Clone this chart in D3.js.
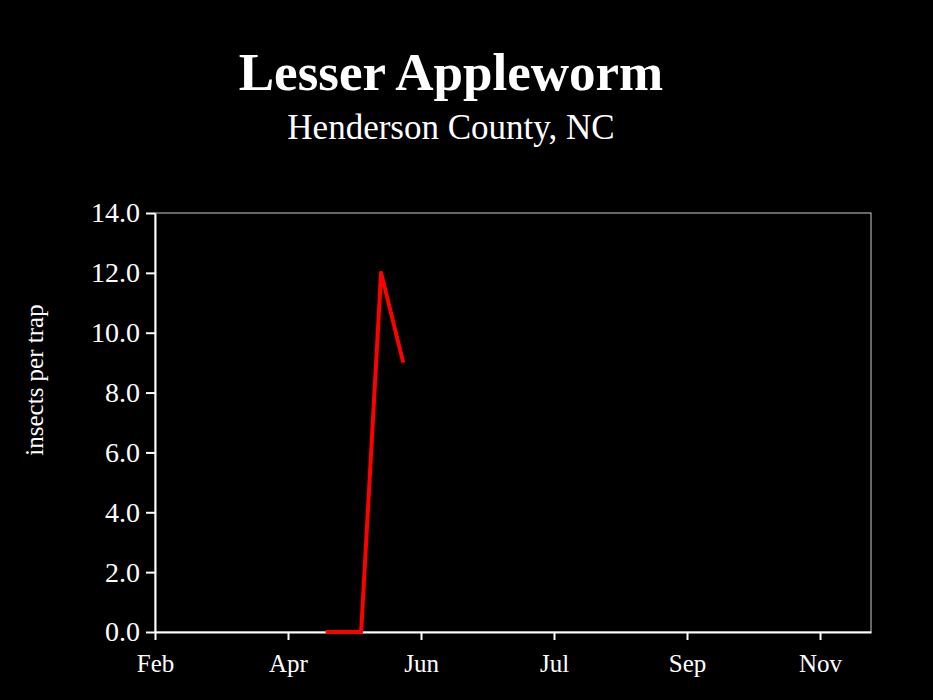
<!DOCTYPE html>
<html><head><meta charset="utf-8">
<script src="https://cdn.jsdelivr.net/npm/d3@7"></script>
<style>body{margin:0;background:#000}</style>
</head><body><div id="d1"></div>
<script>
const dates = ["2009-04-19", "2009-05-05", "2009-05-14", "2009-05-24"];
const counts = [0, 0, 12, 9];
const yTicks = [0, 2, 4, 6, 8, 10, 12, 14];
const xTickDates = ["2009-02-01", "2009-04-02", "2009-06-01", "2009-07-31", "2009-09-29", "2009-11-28"];
const xTickLabels = ["Feb", "Apr", "Jun", "Jul", "Sep", "Nov"];

const width = 933, height = 700;
const margin = { top: 213, right: 62, bottom: 68, left: 155 };
const parse = d3.utcParse("%Y-%m-%d");
const data = dates.map((d, i) => ({ x: parse(d), y: counts[i] }));
const font = "Liberation Serif, serif";

const x = d3.scaleUtc()
    .domain([parse("2009-02-01"), d3.utcDay.offset(parse("2009-02-01"), 323)])
    .range([margin.left, width - margin.right]);
const y = d3.scaleLinear().domain([0, 14]).range([height - margin.bottom, margin.top]);

const svg = d3.select("#d1").append("svg")
    .attr("width", width).attr("height", height)
    .attr("font-family", font);

svg.append("rect").attr("width", width).attr("height", height).attr("fill", "#000");

// frame
svg.append("rect")
    .attr("x", margin.left).attr("y", margin.top)
    .attr("width", width - margin.right - margin.left)
    .attr("height", height - margin.bottom - margin.top)
    .attr("fill", "none").attr("stroke", "#ccc").attr("stroke-width", 1);

const yAxis = g => g
    .attr("transform", `translate(${margin.left},0)`)
    .call(d3.axisLeft(y).tickValues(yTicks).tickFormat(d3.format(".1f")).tickSize(9).tickSizeOuter(0).tickPadding(6))
    .call(g => g.selectAll("line,path").attr("stroke", "#fff").attr("stroke-width", 2))
    .call(g => g.selectAll("text").attr("fill", "#fff").style("font-size", "28px").style("font-family", font));

const xAxis = g => g
    .attr("transform", `translate(0,${height - margin.bottom})`)
    .call(d3.axisBottom(x).tickValues(xTickDates.map(parse))
        .tickFormat((d, i) => xTickLabels[i]).tickSize(8).tickSizeOuter(0).tickPadding(14))
    .call(g => g.selectAll("line,path").attr("stroke", "#fff").attr("stroke-width", 2))
    .call(g => g.selectAll("text").attr("fill", "#fff").style("font-size", "25px").style("font-family", font));

svg.append("g").call(xAxis);
svg.append("g").call(yAxis);

svg.append("text")
    .attr("transform", `translate(43,380) rotate(-90)`)
    .attr("text-anchor", "middle").attr("fill", "#fff").style("font-size", "25px")
    .text("insects per trap");

svg.append("text").attr("x", 451).attr("y", 90).attr("text-anchor", "middle")
    .attr("fill", "#fff").style("font-size", "53px").attr("font-weight", "bold")
    .text("Lesser Appleworm");
svg.append("text").attr("x", 451).attr("y", 139).attr("text-anchor", "middle")
    .attr("fill", "#fff").style("font-size", "35px")
    .text("Henderson County, NC");

const line = d3.line().x(d => x(d.x)).y(d => y(d.y));
svg.append("path").datum(data)
    .attr("fill", "none").attr("stroke", "#ff0000").attr("stroke-width", 4)
    .attr("stroke-linejoin", "round")
    .attr("d", line);
</script></body></html>
